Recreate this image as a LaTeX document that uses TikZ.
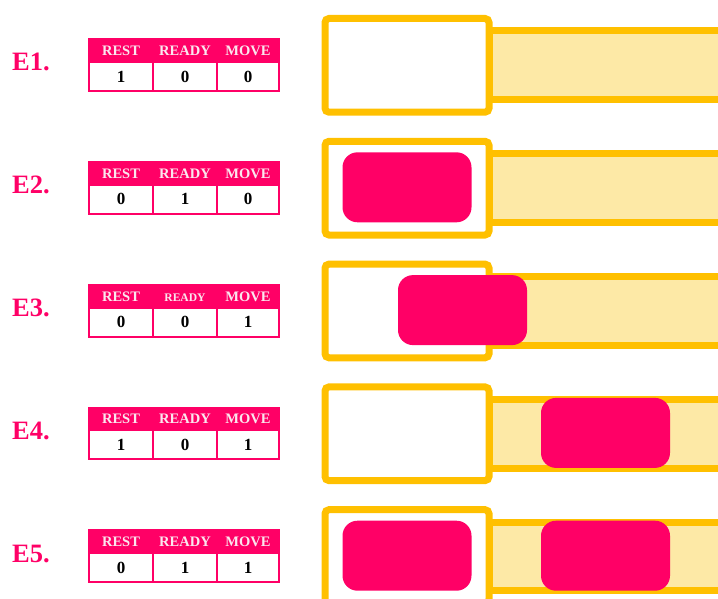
\documentclass[tikz,border=0pt]{standalone}
\usepackage{fontspec}
\setmainfont{Liberation Serif}
\definecolor{pinkc}{HTML}{FF0066}
\definecolor{gold}{HTML}{FFC000}
\definecolor{barfill}{HTML}{FDE9A6}
\definecolor{hdrtxt}{HTML}{FBE6EE}
\tikzset{
  elabel/.style={anchor=base west,inner sep=0pt,text=pinkc,font=\bfseries\fontsize{26.5}{26.5}\selectfont},
  hdr/.style={fill=pinkc,draw=pinkc,line width=1.5pt,minimum width=190pt,minimum height=23pt,inner sep=0pt,outer sep=0pt},
  hdrtext/.style={anchor=base,text=hdrtxt,inner sep=0pt,font=\bfseries\fontsize{14.5}{14.5}\selectfont},
  cell/.style={fill=white,draw=pinkc,line width=2pt,minimum height=29pt,inner sep=0pt,outer sep=0pt,font=\bfseries\fontsize{17}{17}\selectfont},
  slot/.style={fill=white,draw=gold,line width=7pt,rounded corners=4pt,minimum width=164pt,minimum height=93.7pt,inner sep=0pt,outer sep=0pt},
  bar/.style={fill=barfill,draw=gold,line width=7pt,minimum width=250pt,minimum height=68.7pt,inner sep=0pt,outer sep=0pt},
  block/.style={fill=pinkc,rounded corners=15pt,minimum width=129pt,minimum height=70pt,inner sep=0pt,outer sep=0pt}
}
\newcommand{\staterow}[6]{%
  % #1 index, #2 top y, #3 rest, #4 ready, #5 move, #6 ready-scale
  \node[elabel] (e#1) at (12,#2+56) {E#1.};
  \node[hdr] (h#1) at (184,#2+35.5) {};
  \node[hdrtext] (hr#1) at (121,#2+40.5) {REST};
  \node[hdrtext,scale=#6] (hy#1) at (185,#2+40.5) {READY};
  \node[hdrtext] (hm#1) at (248,#2+40.5) {MOVE};
  \node[cell,minimum width=64pt] (cr#1) at (121,#2+61.5) {#3};
  \node[cell,minimum width=64pt] (cy#1) at (185,#2+61.5) {#4};
  \node[cell,minimum width=62pt] (cm#1) at (248,#2+61.5) {#5};
  \node[bar] (bar#1) at (614,#2+50.35) {};
  \node[slot] (slot#1) at (407,#2+50.35) {};
}
\begin{document}
\begin{tikzpicture}[x=1pt,y=-1pt]
\useasboundingbox (0,0) rectangle (718,599);
\staterow{1}{15}{1}{0}{0}{1}
\staterow{2}{137.8}{0}{1}{0}{1}
\staterow{3}{260.6}{0}{0}{1}{0.8}
\staterow{4}{383.4}{1}{0}{1}{1}
\staterow{5}{506.2}{0}{1}{1}{1}
\node[block] (b2) at (407,137.8+49.5) {};
\node[block] (b3) at (462.5,260.6+49.5) {};
\node[block] (b4) at (605.5,383.4+49.5) {};
\node[block] (b5a) at (407,506.2+49.5) {};
\node[block] (b5b) at (605.5,506.2+49.5) {};
\end{tikzpicture}
\end{document}
